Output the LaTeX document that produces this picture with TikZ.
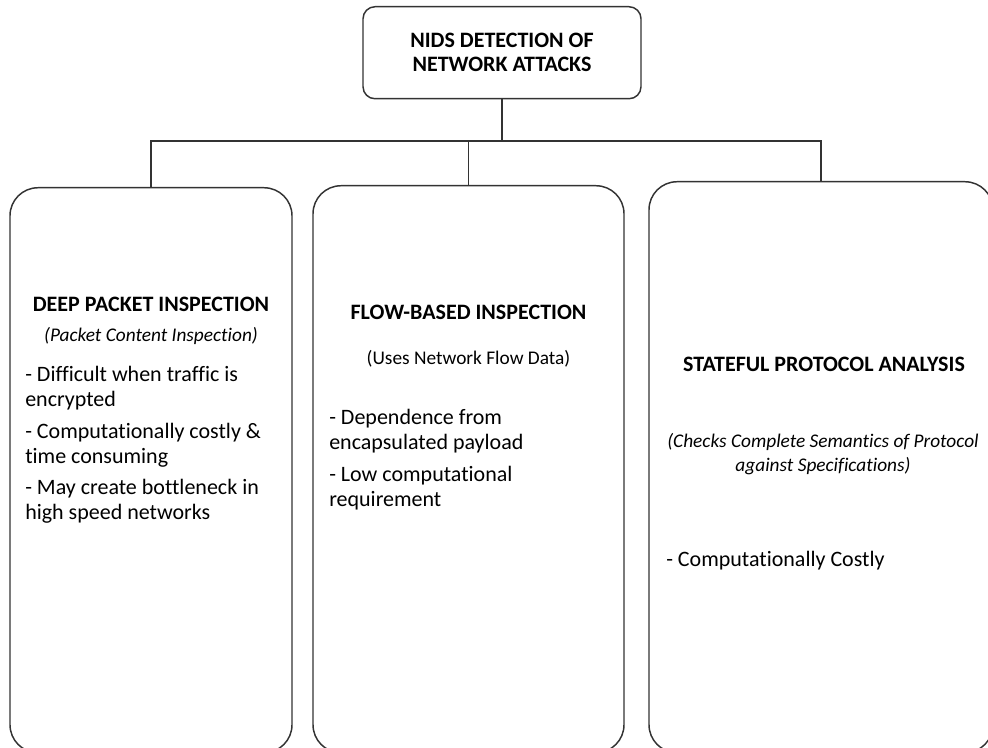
\documentclass[tikz,border=0pt]{standalone}
\usepackage{fontspec}
\setmainfont[Ligatures=NoCommon]{Carlito}
\usepackage{xcolor}
\usetikzlibrary{positioning}

\definecolor{linegray}{HTML}{333333}

\begin{document}
\begin{tikzpicture}[x=0.75pt, y=-0.75pt,
  box/.style={draw=linegray, line width=1.1pt, rounded corners=21pt, anchor=north},
  head/.style={font=\bfseries\fontsize{16.5}{18}\selectfont, anchor=base},
  sub/.style={font=\itshape\fontsize{14.5}{17.5}\selectfont, anchor=base, align=center},
  items/.style={font=\fontsize{16.5}{18.75}\selectfont, anchor=north west, inner sep=0pt, align=left}]
  \useasboundingbox (0,0) rectangle (988,748);

  % top box
  \node[box, rounded corners=9pt, minimum width=208.5pt, minimum height=69pt,
    align=center, font=\bfseries\fontsize{16.5}{18}\selectfont] (top) at (502,6)
    {NIDS DETECTION OF\\ NETWORK ATTACKS};

  % the three inspection boxes
  \node[box, minimum width=211.5pt, minimum height=423.75pt] (dpi) at (151,187) {};
  \node[box, minimum width=233.25pt, minimum height=425.25pt] (fbi) at (468.5,185) {};
  \node[box, minimum width=258pt, minimum height=428.25pt] (spa) at (821,181) {};

  % tree lines
  \coordinate (bus) at (502,141);
  \draw[linegray, line width=1.1pt] (top.south) -- (top.south |- bus);
  \draw[linegray, line width=1.1pt] (top.south |- bus) -| (dpi.north);
  \draw[linegray, line width=1.1pt] (top.south |- bus) -| (fbi.north);
  \draw[linegray, line width=1.1pt] (top.south |- bus) -| (spa.north);

  % deep packet inspection
  \node[head] (dpiHead) at (151,312) {DEEP PACKET INSPECTION};
  \node[sub] (dpiSub) at (151,342) {(Packet Content Inspection)};
  \node[items] (dpiList) at (25,366)
    {- Difficult when traffic is\\ encrypted\\[5pt]
     - Computationally costly \&\\ time consuming\\[5pt]
     - May create bottleneck in\\ high speed networks};

  % flow-based inspection
  \node[head] (fbiHead) at (468.5,320) {FLOW-BASED INSPECTION};
  \node[sub, font=\fontsize{14.5}{17.5}\selectfont] (fbiSub) at (468.5,364) {(Uses Network Flow Data)};
  \node[items] (fbiList) at (329,409)
    {- Dependence from\\ encapsulated payload\\[5pt]
     - Low computational\\ requirement};

  % stateful protocol analysis
  \node[head] (spaHead) at (824,372) {STATEFUL PROTOCOL ANALYSIS};
  \node[sub, anchor=north] (spaSub) at (823,429)
    {(Checks Complete Semantics of Protocol\\ against Specifications)};
  \node[items] (spaList) at (666,551) {- Computationally Costly};
\end{tikzpicture}
\end{document}
